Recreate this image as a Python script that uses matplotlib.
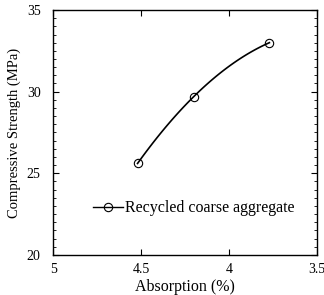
import numpy as np
import matplotlib
matplotlib.use("Agg")
import matplotlib.pyplot as plt

plt.rcParams['font.family'] = ['Liberation Serif', 'DejaVu Serif']

# measured points
absorption = [4.52, 4.20, 3.77]
strength = [25.6, 29.7, 33.0]

x_ticks = [5, 4.5, 4, 3.5]
x_tick_labels = ['5', '4.5', '4', '3.5']
y_ticks = [20, 25, 30, 35]

fig = plt.figure(figsize=(3.24, 2.95), dpi=100)
ax = fig.add_axes([0.164, 0.136, 0.814, 0.830])

# quadratic trend line through the points
coef = np.polyfit(absorption, strength, 2)
xs = np.linspace(min(absorption), max(absorption), 100)
ax.plot(xs, np.polyval(coef, xs), color='black', linewidth=1.2)
ax.plot(absorption, strength, linestyle='none', marker='o', markersize=6,
        markerfacecolor='none', markeredgecolor='black', markeredgewidth=0.8)

# legend handle
ax.plot([], [], color='black', linewidth=1.0, marker='o', markersize=6,
        markerfacecolor='none', markeredgewidth=0.8, label='Recycled coarse aggregate')
ax.legend(loc='center left', bbox_to_anchor=(0.12, 0.19), frameon=False,
          fontsize=11.5, handlelength=1.9, handletextpad=0.1, borderpad=0)

ax.set_xlim(5, 3.5)
ax.set_ylim(20, 35)
ax.set_xticks(x_ticks)
ax.set_xticklabels(x_tick_labels)
ax.set_yticks(y_ticks)
ax.set_yticks(np.arange(20, 35.01, 0.5), minor=True)
ax.tick_params(direction='in', top=True, right=True, labelsize=10, length=4)
ax.tick_params(axis='y', pad=9)
ax.tick_params(axis='x', pad=6)
ax.tick_params(which='minor', direction='in', right=True, length=2.5)
for s in ax.spines.values():
    s.set_linewidth(1.0)

ax.set_xlabel('Absorption (%)', fontsize=11.5, labelpad=2)
ax.set_ylabel('Compressive Strength (MPa)', fontsize=10.5, labelpad=4)

fig.savefig('out.png', dpi=100)
